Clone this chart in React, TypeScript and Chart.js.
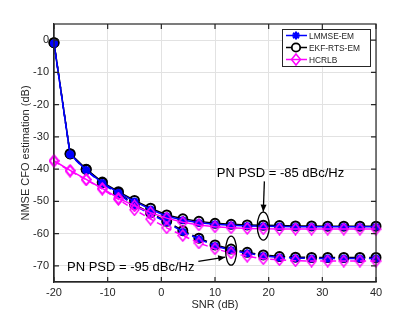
import React, { useEffect, useRef } from "react";
import { Chart, registerables } from "chart.js";

Chart.register(...registerables);

// ---- data ----
const snr = [-20, -17, -14, -11, -8, -5, -2, 1, 4, 7, 10, 13, 16, 19, 22, 25, 28, 31, 34, 37, 40];
const xTicks = [-20, -10, 0, 10, 20, 30, 40];
const yTicks = [-70, -60, -50, -40, -30, -20, -10, 0];

// PN PSD = -85 dBc/Hz (solid)
const ekf85 = [-0.8, -35.2, -40.0, -44.0, -47.0, -49.7, -52.1, -54.2, -55.4, -56.2, -56.8, -57.1, -57.3, -57.4, -57.5, -57.6, -57.6, -57.7, -57.7, -57.7, -57.7];
const lmmse85 = [-1.0, -35.4, -40.3, -44.3, -47.3, -50.0, -52.5, -54.6, -55.8, -56.6, -57.1, -57.4, -57.6, -57.7, -57.8, -57.9, -57.9, -57.9, -57.9, -57.9, -57.9];
const hcrlb85 = [-37.4, -40.4, -43.2, -46.0, -49.0, -51.4, -53.5, -55.2, -56.5, -57.3, -57.9, -58.2, -58.4, -58.5, -58.6, -58.6, -58.6, -58.6, -58.6, -58.6, -58.6];

// PN PSD = -95 dBc/Hz (dashed)
const ekf95 = [-0.8, -35.3, -40.1, -44.2, -47.4, -51.0, -53.6, -56.2, -59.1, -61.4, -63.5, -64.8, -65.8, -66.6, -67.1, -67.3, -67.4, -67.4, -67.4, -67.4, -67.4];
const lmmse95 = [-1.0, -35.5, -40.4, -44.5, -47.7, -51.3, -53.9, -56.5, -59.4, -61.7, -63.8, -65.1, -66.1, -66.9, -67.4, -67.6, -67.7, -67.7, -67.7, -67.7, -67.7];
const hcrlb95 = [-37.5, -40.6, -43.3, -46.2, -49.4, -52.6, -55.5, -58.2, -60.6, -62.9, -64.7, -66.0, -67.0, -67.8, -68.1, -68.4, -68.5, -68.5, -68.5, -68.5, -68.5];

const legendLabels = ["LMMSE-EM", "EKF-RTS-EM", "HCRLB"];
const annText85 = "PN PSD = -85 dBc/Hz";
const annText95 = "PN PSD = -95 dBc/Hz";

const BLUE = "#0000ff";
const BLACK = "#000000";
const MAGENTA = "#ff00ff";
const AXIS = "#262626";
const GRID = "#e2e2e2";
const FONT = "'Liberation Sans', Arial, sans-serif";

function makeDiamond(color: string) {
  const c = document.createElement("canvas");
  c.width = 11;
  c.height = 13;
  const g = c.getContext("2d")!;
  g.strokeStyle = color;
  g.lineWidth = 1.5;
  g.beginPath();
  g.moveTo(5.5, 1);
  g.lineTo(10, 6.5);
  g.lineTo(5.5, 12);
  g.lineTo(1, 6.5);
  g.closePath();
  g.stroke();
  return c;
}

function drawMarker(ctx: CanvasRenderingContext2D, kind: string, x: number, y: number) {
  ctx.save();
  if (kind === "star") {
    ctx.strokeStyle = BLUE;
    ctx.lineWidth = 2;
    const r = 4;
    ctx.beginPath();
    for (let i = 0; i < 4; i++) {
      const a = (i * Math.PI) / 4;
      ctx.moveTo(x - r * Math.cos(a), y - r * Math.sin(a));
      ctx.lineTo(x + r * Math.cos(a), y + r * Math.sin(a));
    }
    ctx.stroke();
  } else if (kind === "circle") {
    ctx.strokeStyle = BLACK;
    ctx.lineWidth = 1.8;
    ctx.fillStyle = "#fff";
    ctx.beginPath();
    ctx.arc(x, y, 4.2, 0, Math.PI * 2);
    ctx.fill();
    ctx.stroke();
  } else {
    ctx.strokeStyle = MAGENTA;
    ctx.lineWidth = 1.5;
    ctx.beginPath();
    ctx.moveTo(x, y - 5.5);
    ctx.lineTo(x + 4.5, y);
    ctx.lineTo(x, y + 5.5);
    ctx.lineTo(x - 4.5, y);
    ctx.closePath();
    ctx.stroke();
  }
  ctx.restore();
}

function arrow(ctx: CanvasRenderingContext2D, x1: number, y1: number, x2: number, y2: number) {
  ctx.save();
  ctx.strokeStyle = "#000";
  ctx.fillStyle = "#000";
  ctx.lineWidth = 1.3;
  ctx.beginPath();
  ctx.moveTo(x1, y1);
  ctx.lineTo(x2, y2);
  ctx.stroke();
  const a = Math.atan2(y2 - y1, x2 - x1);
  const L = 7, W = 3;
  ctx.beginPath();
  ctx.moveTo(x2, y2);
  ctx.lineTo(x2 - L * Math.cos(a) + W * Math.sin(a), y2 - L * Math.sin(a) - W * Math.cos(a));
  ctx.lineTo(x2 - L * Math.cos(a) - W * Math.sin(a), y2 - L * Math.sin(a) + W * Math.cos(a));
  ctx.closePath();
  ctx.fill();
  ctx.restore();
}

const decorPlugin = {
  id: "decor",
  afterDraw(chart: any) {
    const ctx: CanvasRenderingContext2D = chart.ctx;
    const { left, right, top, bottom } = chart.chartArea;
    const xs = chart.scales.x;
    const ys = chart.scales.y;
    ctx.save();
    // box
    ctx.strokeStyle = AXIS;
    ctx.lineWidth = 1.2;
    ctx.strokeRect(left, top, right - left, bottom - top);
    // inward ticks
    const tl = 5;
    ctx.beginPath();
    for (const v of xTicks) {
      const px = xs.getPixelForValue(v);
      ctx.moveTo(px, bottom);
      ctx.lineTo(px, bottom - tl);
      ctx.moveTo(px, top);
      ctx.lineTo(px, top + tl);
    }
    for (const v of yTicks) {
      const py = ys.getPixelForValue(v);
      ctx.moveTo(left, py);
      ctx.lineTo(left + tl, py);
      ctx.moveTo(right, py);
      ctx.lineTo(right - tl, py);
    }
    ctx.stroke();

    // annotations
    ctx.strokeStyle = "#000";
    ctx.lineWidth = 1.3;
    const ell = (xv: number, yv: number, rx: number, ry: number) => {
      ctx.beginPath();
      ctx.ellipse(xs.getPixelForValue(xv), ys.getPixelForValue(yv), rx, ry, 0, 0, Math.PI * 2);
      ctx.stroke();
    };
    ell(19, -57.7, 6, 14);
    ell(13, -65.3, 5.5, 14.5);
    arrow(ctx, xs.getPixelForValue(19.2), ys.getPixelForValue(-43.8), xs.getPixelForValue(19.0), ys.getPixelForValue(-53.2));
    arrow(ctx, xs.getPixelForValue(6.9), ys.getPixelForValue(-68.6), xs.getPixelForValue(11.9), ys.getPixelForValue(-67.3));
    ctx.fillStyle = "#000";
    ctx.font = `13px ${FONT}`;
    ctx.textAlign = "center";
    ctx.textBaseline = "middle";
    ctx.fillText(annText85, xs.getPixelForValue(22.2), ys.getPixelForValue(-41.2));
    ctx.fillText(annText95, xs.getPixelForValue(-5.7), ys.getPixelForValue(-70.4));

    // legend
    const lx = right - 94, ly = top + 5, lw = 88, lh = 37;
    ctx.fillStyle = "#fff";
    ctx.fillRect(lx, ly, lw, lh);
    ctx.strokeStyle = AXIS;
    ctx.lineWidth = 1;
    ctx.strokeRect(lx + 0.5, ly + 0.5, lw, lh);
    const kinds = ["star", "circle", "diamond"];
    const cols = [BLUE, BLACK, MAGENTA];
    ctx.font = `9.5px ${FONT}`;
    ctx.textAlign = "left";
    ctx.textBaseline = "middle";
    for (let i = 0; i < 3; i++) {
      const yy = ly + 6.5 + i * 12;
      ctx.strokeStyle = cols[i];
      ctx.lineWidth = 1.5;
      ctx.beginPath();
      ctx.moveTo(lx + 4, yy);
      ctx.lineTo(lx + 25, yy);
      ctx.stroke();
      drawMarker(ctx, kinds[i], lx + 14, yy);
      ctx.save();
      ctx.translate(lx + 27, yy + 0.5);
      ctx.scale(0.88, 1);
      ctx.fillStyle = AXIS;
      ctx.fillText(legendLabels[i], 0, 0);
      ctx.restore();
    }
    ctx.restore();
  },
};

export default function App() {
  const ref = useRef<HTMLCanvasElement>(null);
  useEffect(() => {
    const canvas = ref.current!;
    const diamond = makeDiamond(MAGENTA);
    const mk = (vals: number[]) => snr.map((x, i) => ({ x, y: vals[i] }));
    const base = { clip: false as any, borderWidth: 1.5, pointHoverRadius: 4 };
    const chart = new Chart(canvas, {
      type: "line",
      data: {
        datasets: [
          { ...base, label: "EKF-RTS-EM -85", data: mk(ekf85), borderColor: BLACK, pointStyle: "circle", pointRadius: 4.5, pointBorderWidth: 2, pointBorderColor: BLACK, pointBackgroundColor: "rgba(0,0,0,0)", order: 6 },
          { ...base, label: "EKF-RTS-EM -95", data: mk(ekf95), borderColor: BLACK, borderDash: [6, 4], pointStyle: "circle", pointRadius: 4.5, pointBorderWidth: 2, pointBorderColor: BLACK, pointBackgroundColor: "rgba(0,0,0,0)", order: 5 },
          { ...base, label: "LMMSE-EM -85", data: mk(lmmse85), borderColor: BLUE, pointStyle: "star", pointRadius: 4, pointBorderWidth: 2.4, pointBorderColor: BLUE, order: 4 },
          { ...base, label: "LMMSE-EM -95", data: mk(lmmse95), borderColor: BLUE, borderDash: [6, 4], pointStyle: "star", pointRadius: 4, pointBorderWidth: 2.4, pointBorderColor: BLUE, order: 3 },
          { ...base, label: "HCRLB -85", data: mk(hcrlb85), borderColor: MAGENTA, pointStyle: diamond as any, order: 2 },
          { ...base, label: "HCRLB -95", data: mk(hcrlb95), borderColor: MAGENTA, borderDash: [6, 4], pointStyle: diamond as any, order: 1 },
        ],
      },
      options: {
        responsive: false,
        animation: false,
        events: [],
        layout: { padding: { left: 0, right: 39, top: 24, bottom: 0 } },
        plugins: { legend: { display: false }, tooltip: { enabled: false } },
        elements: { line: { tension: 0 } },
        scales: {
          x: {
            type: "linear",
            min: -20,
            max: 40,
            afterBuildTicks: (s: any) => { s.ticks = xTicks.map((v) => ({ value: v })); },
            afterFit: (s: any) => { s.height = 35; },
            ticks: { color: AXIS, font: { family: FONT, size: 11 }, padding: 4, maxRotation: 0 },
            grid: { color: GRID, lineWidth: 1, drawTicks: false },
            border: { display: true, color: AXIS, width: 1.2 },
            title: { display: true, text: "SNR (dB)", color: AXIS, font: { family: FONT, size: 11 }, padding: { top: 0, bottom: 5 } },
          },
          y: {
            type: "linear",
            min: -75,
            max: 5,
            afterBuildTicks: (s: any) => { s.ticks = yTicks.map((v) => ({ value: v })); },
            afterFit: (s: any) => { s.width = 54; },
            ticks: { color: AXIS, font: { family: FONT, size: 11 }, padding: 5 },
            grid: { color: GRID, lineWidth: 1, drawTicks: false },
            border: { display: true, color: AXIS, width: 1.2 },
            title: { display: true, text: "NMSE CFO estimation (dB)", color: AXIS, font: { family: FONT, size: 11 }, padding: { top: 19, bottom: 0 } },
          },
        },
      },
      plugins: [decorPlugin],
    } as any);
    return () => chart.destroy();
  }, []);
  return (
    <div style={{ position: "fixed", left: 0, top: 0, width: 415, height: 317, background: "#fff" }}>
      <canvas ref={ref} width={415} height={317} style={{ display: "block" }} />
    </div>
  );
}
